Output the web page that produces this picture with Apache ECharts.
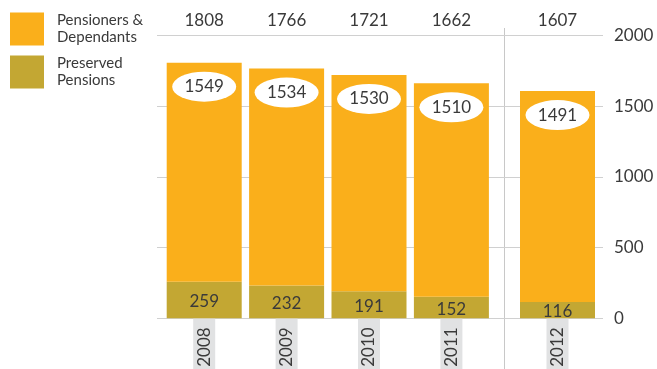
<!DOCTYPE html>
<html>
<head>
<meta charset="utf-8">
<script src="https://cdn.jsdelivr.net/npm/echarts@6/dist/echarts.min.js"></script>
<style>
  html, body { margin: 0; padding: 0; background: #fff; }
  #chart { width: 657px; height: 369px; }
</style>
</head>
<body>
<div id="chart"></div>
<script>
// Membership by year (members)
const years = ['2008', '2009', '2010', '2011', '2012'];
const pensioners = [1549, 1534, 1530, 1510, 1491];
const preserved = [259, 232, 191, 152, 116];
const yTicks = [0, 500, 1000, 1500, 2000];
// 2012 is shown in its own panel, right of the divider
const panelOf = [0, 0, 0, 0, 1];

const FONT = 'Lato, "Open Sans", sans-serif';
const TEXT = '#3a3a3a';
const ORANGE = '#FAAF1B';
const OLIVE = '#C3A733';
const GRID_LINE = '#d0d0d0';
const ELLIPSE = 'path://M0,1 A1,1 0 1,1 2,1 A1,1 0 1,1 0,1 Z';

const totals = pensioners.map((v, i) => v + preserved[i]);
const panels = [[], []];
years.forEach((y, i) => panels[panelOf[i]].push(i));

const plotTop = 35.5, plotHeight = 282.8;
const panelBoxes = [
  { left: 163, width: 329.6 },
  { left: 516.3, width: 82.4 }
];
const yMin = yTicks[0], yMax = yTicks[yTicks.length - 1], yStep = yTicks[1] - yTicks[0];

// background grid: horizontal rules and the right-hand value axis
const grid = [{ left: 157, right: 54, top: plotTop, height: plotHeight, outerBoundsMode: 'none', containLabel: false }];
const xAxis = [{ gridIndex: 0, type: 'value', show: false }];
const yAxis = [{
  gridIndex: 0, type: 'value', min: yMin, max: yMax, interval: yStep, position: 'right',
  axisLine: { show: false }, axisTick: { show: false },
  axisLabel: { margin: 11, fontSize: 17, color: TEXT, fontFamily: FONT, formatter: v => String(v) },
  splitLine: { lineStyle: { color: GRID_LINE, width: 1 } }
}];
const series = [];

panels.forEach((idx, p) => {
  const g = grid.length;
  grid.push({
    left: panelBoxes[p].left, width: panelBoxes[p].width, top: plotTop, height: plotHeight,
    outerBoundsMode: 'none', containLabel: false
  });
  const xBottom = xAxis.length;
  xAxis.push({
    gridIndex: g, type: 'category', position: 'bottom', data: idx.map(i => years[i]),
    axisLine: { show: false }, axisTick: { show: false },
    axisLabel: {
      interval: 0, rotate: 90, margin: 0, fontSize: 17, color: TEXT, fontFamily: FONT,
      backgroundColor: '#E1E2E3', padding: [3, 9, 2, 30]
    }
  });
  xAxis.push({
    gridIndex: g, type: 'category', position: 'top', data: idx.map(i => String(totals[i])),
    axisLine: { show: false }, axisTick: { show: false },
    axisLabel: { interval: 0, margin: 6, fontSize: 17, color: TEXT, fontFamily: FONT }
  });
  const ya = yAxis.length;
  yAxis.push({ gridIndex: g, type: 'value', min: yMin, max: yMax, interval: yStep, show: false });

  series.push({
    name: 'Preserved\nPensions', type: 'bar', xAxisIndex: xBottom, yAxisIndex: ya,
    stack: 'members' + p, barWidth: 75, itemStyle: { color: OLIVE },
    label: { show: true, position: 'inside', offset: [0, 1.5], fontSize: 17, color: TEXT, fontFamily: FONT },
    data: idx.map(i => preserved[i])
  });
  series.push({
    name: 'Pensioners &\nDependants', type: 'bar', xAxisIndex: xBottom, yAxisIndex: ya,
    stack: 'members' + p, barWidth: 75, itemStyle: { color: ORANGE },
    data: idx.map(i => pensioners[i])
  });
  // white oval badge near the top of each bar with the pensioners count
  series.push({
    type: 'scatter', xAxisIndex: xBottom, yAxisIndex: ya, silent: true, z: 5,
    symbol: ELLIPSE, symbolSize: [64, 30], symbolOffset: [0, 24], symbolKeepAspect: false,
    itemStyle: { color: '#ffffff', opacity: 1 },
    label: {
      show: true, position: 'inside', fontSize: 17, color: TEXT, fontFamily: FONT,
      formatter: prm => String(pensioners[idx[prm.dataIndex]])
    },
    data: idx.map(i => totals[i])
  });
});

const chart = echarts.init(document.getElementById('chart'), null, { renderer: 'canvas' });
chart.setOption({
  animation: false,
  backgroundColor: '#ffffff',
  legend: {
    data: ['Pensioners &\nDependants', 'Preserved\nPensions'],
    orient: 'vertical', left: 10, top: 12, padding: 0, itemGap: 9,
    itemWidth: 34, itemHeight: 33, icon: 'rect', selectedMode: false,
    textStyle: { fontSize: 15, lineHeight: 17, color: TEXT, fontFamily: FONT, padding: [0, 0, 0, 8] }
  },
  grid, xAxis, yAxis, series,
  graphic: [{
    type: 'line', silent: true, z: -1,
    shape: { x1: 504.5, y1: 28, x2: 504.5, y2: 369 },
    style: { stroke: '#c8c8c8', lineWidth: 1 }
  }]
});
</script>
</body>
</html>
